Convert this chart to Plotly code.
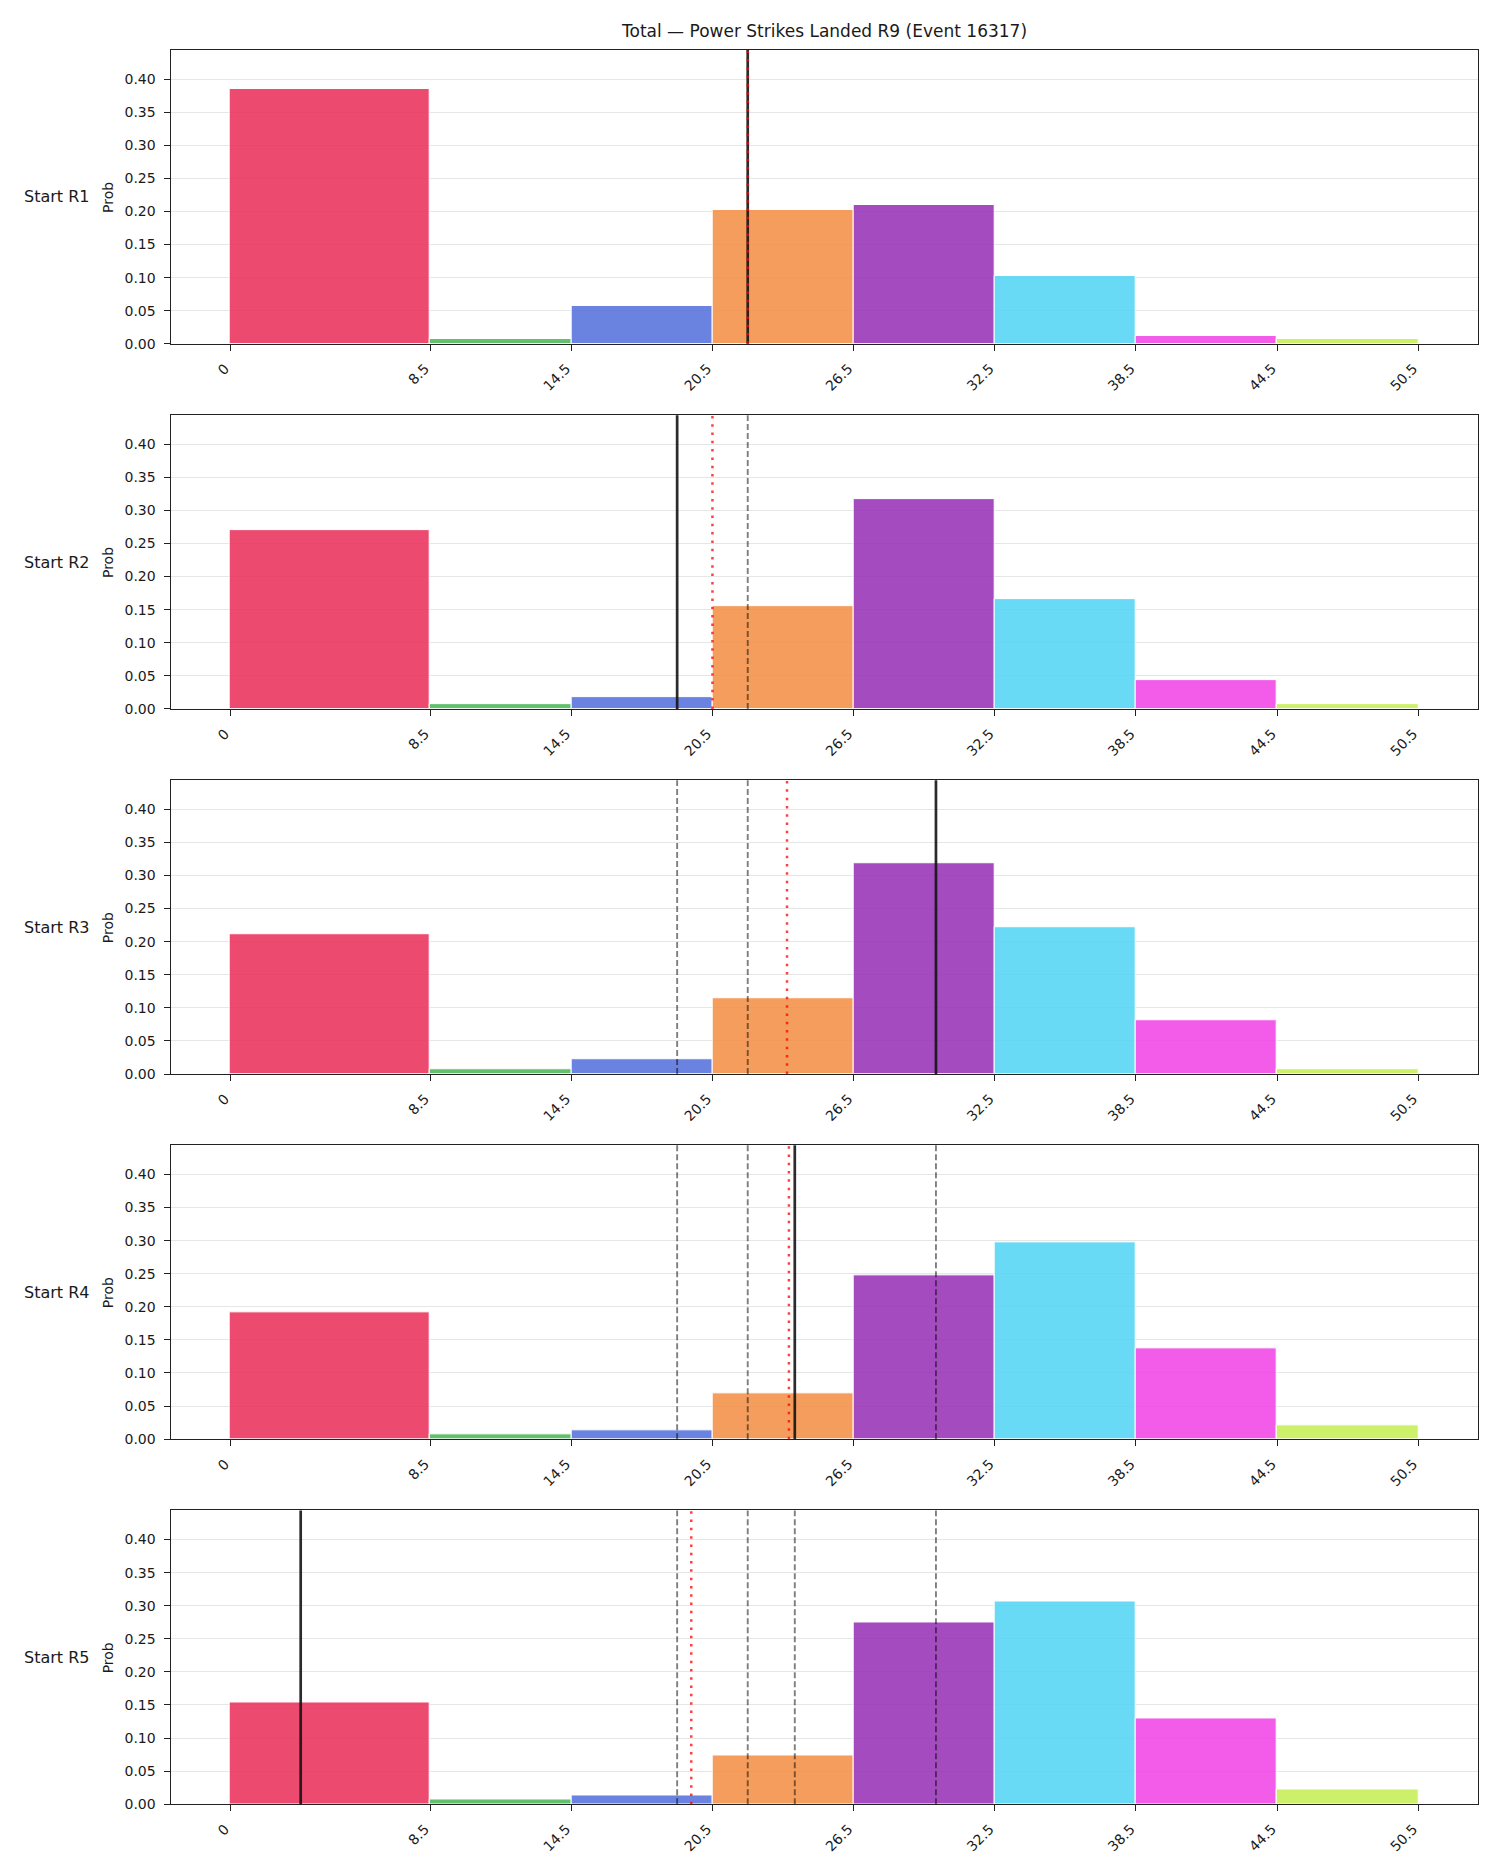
import plotly.graph_objects as go

# ---------------- data ----------------
bin_edges = [0, 8.5, 14.5, 20.5, 26.5, 32.5, 38.5, 44.5, 50.5]
tick_labels = ["0", "8.5", "14.5", "20.5", "26.5", "32.5", "38.5", "44.5", "50.5"]
row_labels = ["Start R1", "Start R2", "Start R3", "Start R4", "Start R5"]
title_text = "Total \u2014 Power Strikes Landed R9 (Event 16317)"

prob_r1 = [0.385, 0.007, 0.057, 0.202, 0.210, 0.102, 0.012, 0.007]
prob_r2 = [0.270, 0.007, 0.018, 0.155, 0.317, 0.166, 0.044, 0.007]
prob_r3 = [0.211, 0.007, 0.022, 0.114, 0.319, 0.222, 0.081, 0.007]
prob_r4 = [0.191, 0.007, 0.013, 0.069, 0.248, 0.298, 0.137, 0.021]
prob_r5 = [0.154, 0.007, 0.013, 0.074, 0.275, 0.307, 0.130, 0.022]
probs = [prob_r1, prob_r2, prob_r3, prob_r4, prob_r5]

start_values = [22, 19, 30, 24, 3]                 # solid black line per row
running_means = [22.0, 20.5, 23.67, 23.75, 19.6]   # red dotted line per row

bar_colors = [
    "rgba(233,42,86,0.85)",
    "rgba(70,181,84,0.85)",
    "rgba(80,108,218,0.85)",
    "rgba(243,140,64,0.85)",
    "rgba(149,43,181,0.85)",
    "rgba(77,211,243,0.85)",
    "rgba(240,63,229,0.85)",
    "rgba(195,237,79,0.85)",
]

# ---------------- layout geometry ----------------
W, H = 1500, 1875
KY = 1.0046  # vertical correction factor
x_left, x_right = 170.7, 1477.7
row_top0, row_h, row_step = 50.0, 293.7, 365.0
x_range = [-2.525, 53.025]
y_range = [0, 0.4439]
FONT = "DejaVu Sans"
TXT = "#1a1a1a"


def py(px):
    return 1 - (px * KY) / H


centers = [(bin_edges[i] + bin_edges[i + 1]) / 2 for i in range(len(bin_edges) - 1)]
widths = [bin_edges[i + 1] - bin_edges[i] for i in range(len(bin_edges) - 1)]

fig = go.Figure()
shapes = []
annotations = []

for r in range(5):
    n = "" if r == 0 else str(r + 1)
    xa, ya = "x" + n, "y" + n
    top_px = row_top0 + r * row_step
    bot_px = top_px + row_h
    dom_y = [py(bot_px), py(top_px)]

    fig.add_trace(go.Bar(
        x=centers, y=probs[r], width=widths,
        marker=dict(color=bar_colors, line=dict(color="white", width=1)),
        xaxis=xa, yaxis=ya, showlegend=False,
        hovertemplate="%{y:.3f}<extra></extra>",
    ))

    ax_common = dict(
        showline=True, linecolor="#222", linewidth=1.4, mirror=True,
        ticks="outside", ticklen=6, tickwidth=1.3, tickcolor="#222",
        tickfont=dict(family=FONT, size=14, color=TXT),
        zeroline=False,
    )
    fig.layout["xaxis" + n] = dict(
        domain=[x_left / W, x_right / W], range=x_range, anchor=ya,
        tickmode="array", tickvals=bin_edges, ticktext=tick_labels,
        tickangle=-45, showgrid=False, ticklabelstandoff=4, ticklabelshift=-5,
        **ax_common,
    )
    fig.layout["yaxis" + n] = dict(
        domain=dom_y, range=y_range, anchor=xa,
        tickmode="array", tickvals=[0, 0.05, 0.1, 0.15, 0.2, 0.25, 0.3, 0.35, 0.4],
        tickformat=".2f", showgrid=True, gridcolor="#e6e6e6", gridwidth=1,
        ticklabelstandoff=5, **ax_common,
    )

    # previous starts: grey dashed
    for p in range(r):
        shapes.append(dict(
            type="line", xref=xa, yref=ya + " domain",
            x0=start_values[p], x1=start_values[p], y0=0, y1=1,
            line=dict(color="rgba(0,0,0,0.5)", width=1.9, dash="6px,3px"),
        ))
    # current start: solid black
    shapes.append(dict(
        type="line", xref=xa, yref=ya + " domain",
        x0=start_values[r], x1=start_values[r], y0=0, y1=1,
        line=dict(color="rgba(20,20,20,0.9)", width=2.7),
    ))
    # running mean: red dotted
    shapes.append(dict(
        type="line", xref=xa, yref=ya + " domain",
        x0=running_means[r], x1=running_means[r], y0=0, y1=1,
        line=dict(color="rgba(255,0,0,0.75)", width=2.5, dash="2.5px,5.8px"),
    ))

    yc = py((top_px + bot_px) / 2)
    annotations.append(dict(
        text=row_labels[r], xref="paper", yref="paper",
        x=91 / W, y=yc, xanchor="right", yanchor="middle",
        showarrow=False, font=dict(family=FONT, size=16, color=TXT),
    ))
    annotations.append(dict(
        text="Prob", xref="paper", yref="paper",
        x=108 / W, y=yc, xanchor="center", yanchor="middle", textangle=-90,
        showarrow=False, font=dict(family=FONT, size=14, color=TXT),
    ))

annotations.append(dict(
    text=title_text, xref="paper", yref="paper",
    x=(x_left + x_right) / 2 / W, y=py(31), xanchor="center", yanchor="middle",
    showarrow=False, font=dict(family=FONT, size=17, color=TXT),
))

fig.update_layout(
    width=W, height=H,
    margin=dict(l=0, r=0, t=0, b=0),
    paper_bgcolor="white", plot_bgcolor="white",
    bargap=0, shapes=shapes, annotations=annotations,
    font=dict(family=FONT, color=TXT),
)

fig.write_html("out.html")
